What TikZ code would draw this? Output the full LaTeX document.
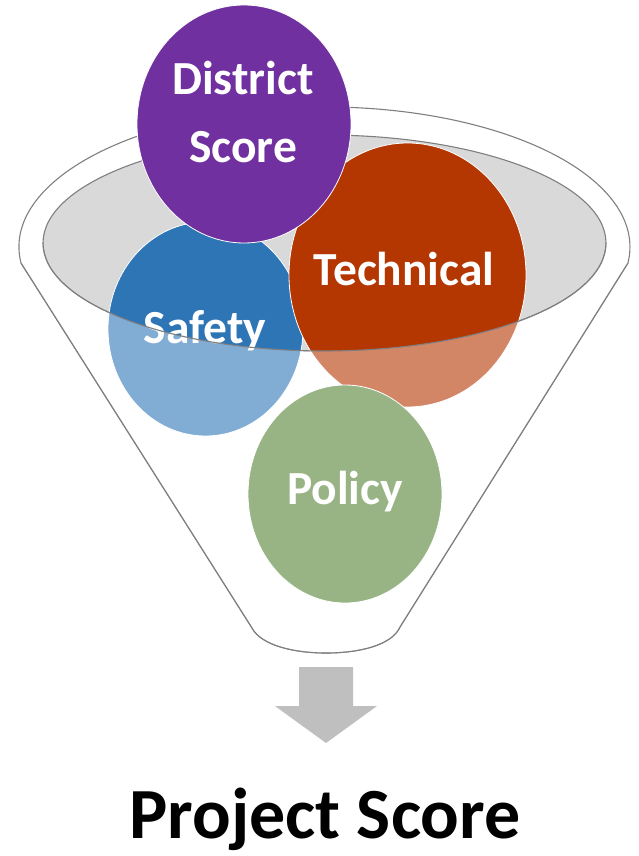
\documentclass[tikz,border=0pt]{standalone}
\usepackage{fontspec}
\setmainfont{Carlito}
\usetikzlibrary{arrows.meta}
\definecolor{funnelgray}{RGB}{127,127,127}
\definecolor{rimfill}{RGB}{217,217,217}
\definecolor{districtpurple}{RGB}{112,48,160}
\definecolor{safetyblue}{RGB}{46,117,182}
\definecolor{technicalred}{RGB}{180,54,0}
\definecolor{policygreen}{RGB}{84,130,53}
\definecolor{arrowgray}{RGB}{191,191,191}
\tikzset{
  funnel line/.style={draw=funnelgray, line width=1.1pt},
  score ball/.style={fill=#1, draw=white, line width=0.8pt},
  ball label/.style={text=white, font=\bfseries\fontsize{47.5}{68}\selectfont, align=center, inner sep=0pt},
}

\begin{document}
\begin{tikzpicture}[x=1pt,y=-1pt]
    \useasboundingbox (0,0) rectangle (638,856);
    % funnel rim and body
    \draw[funnel line] (21,263) arc (173.4:366.6:305.5 and 140) -- (400,627)
        .. controls (392,645) and (360,653) .. (326,653)
        .. controls (293,653) and (261,645) .. (252,628) -- cycle;
    \draw[funnel line, fill=rimfill] (324.5,243) ellipse (281.5 and 108);
    % the four scores
    \draw[score ball=safetyblue] (205.5,329) ellipse (97.5 and 107);
    \node[ball label, anchor=base] (safety) at (205,343) {Safety};
    \draw[score ball=technicalred] (407.5,275) ellipse (118.5 and 132);
    \node[ball label, anchor=base] (technical) at (404,285) {Technical};
    \draw[score ball=districtpurple] (244,124) ellipse (107 and 119);
    \node[ball label] (district) at (243,112) {District\\Score};
    \draw[score ball=policygreen] (345,494) ellipse (97 and 109);
    \node[ball label, anchor=base] (policy) at (345,504) {Policy};
    % front of the funnel
    \fill[white, opacity=.4] (43,243) arc (180:0:281.5 and 108) -- (628,263) -- (400,627)
        .. controls (392,645) and (360,653) .. (326,653)
        .. controls (293,653) and (261,645) .. (252,628) -- (21,263) -- cycle;
    \draw[funnel line] (43,243) arc (180:0:281.5 and 108);
    \draw[funnel line] (628,263) -- (400,627)
        .. controls (392,645) and (360,653) .. (326,653)
        .. controls (293,653) and (261,645) .. (252,628) -- (21,263);
    % result
    \fill[arrowgray] (299,667) -- (353,667) -- (353,706) -- (377,706) -- (326,743)
        -- (275,706) -- (299,706) -- cycle;
    \node[font=\bfseries\fontsize{72}{86}\selectfont, anchor=base, inner sep=0pt] (project) at (325,838) {Project Score};
\end{tikzpicture}
\end{document}
